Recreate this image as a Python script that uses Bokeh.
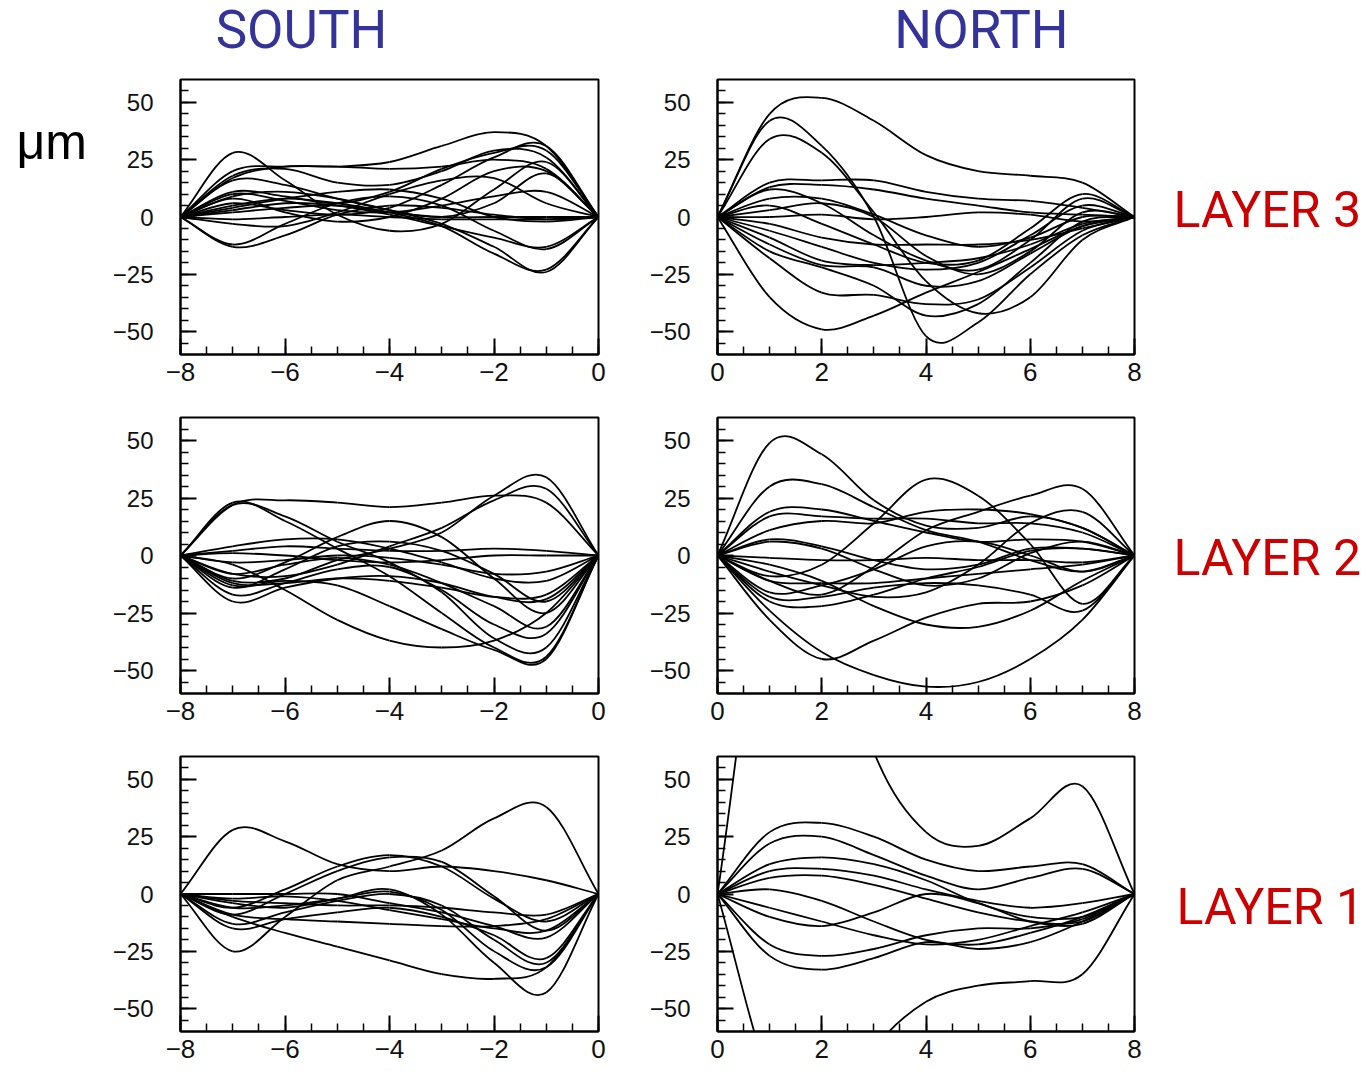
import numpy as np
from bokeh.plotting import figure
from bokeh.layouts import row, column
from bokeh.models import Range1d, FixedTicker, CustomJSTickFormatter, ColumnDataSource
from bokeh.core.properties import value
from bokeh.embed import file_html
from bokeh.resources import INLINE

# ---------------- data (values in µm) ----------------
x_south = [-8, -7, -6, -5, -4, -3, -2, -1, 0]
x_north = [0, 1, 2, 3, 4, 5, 6, 7, 8]

south_x_major = [-8, -6, -4, -2, 0]
north_x_major = [0, 2, 4, 6, 8]
y_major = [-50, -25, 0, 25, 50]

column_titles = ["SOUTH", "NORTH"]
row_titles = ["LAYER 3", "LAYER 2", "LAYER 1"]
unit_label = "μm"

south_layer3 = [
    [0, 17, 22, 22, 24, 31, 37, 31, 0],
    [0, 28, 16, 1, -6, -3, 12, 24, 0],
    [0, -13, -8, 1, 5, 4, 1, -1, 0],
    [0, -12, -3, 6, 9, 5, -6, -14, 0],
    [0, 5, 8, 6, 2, -4, -16, -23, 0],
    [0, 9, 11, 8, 3, -3, -13, -24, 0],
    [0, 3, 6, 5, 1, -4, -9, -13, 0],
    [0, 18, 21, 15, 14, 20, 29, 26, 0],
    [0, 11, 9, 6, 11, 21, 28, 29, 0],
    [0, 6, 3, 1, 4, 14, 26, 31, 0],
    [0, 20, 22, 22, 21, 22, 25, 21, 0],
    [0, -1, 0, 1, 0, -1, -1, -1, 0],
    [0, 2, 4, 5, 2, 0, 0, 0, 0],
    [0, 10, 7, 3, 2, 5, 9, 11, 0],
    [0, 16, 14, 8, 3, 0, 6, 19, 0],
    [0, 4, 8, 11, 12, 8, 0, -2, 0],
    [0, -3, -4, 2, 10, 16, 17, 6, 0],
    [0, 8, 2, -2, 0, 8, 20, 20, 0],
]

north_layer3 = [
    [0, 45, 52, 42, 27, 20, 18, 15, 0],
    [0, 42, 31, 0, -52, -46, -25, -8, 0],
    [0, 34, 28, 2, -28, -42, -35, -10, 0],
    [0, -35, -49, -43, -33, -24, -14, -4, 0],
    [0, -18, -33, -34, -38, -36, -22, -6, 0],
    [0, 15, 16, 16, 11, 8, 7, 4, 0],
    [0, 13, 14, 12, 8, 5, 2, 1, 0],
    [0, 5, -3, -12, -20, -19, -5, 10, 0],
    [0, 12, 6, -8, -19, -23, -10, 8, 0],
    [0, -6, -13, -20, -23, -20, -8, 5, 0],
    [0, 0, 1, -1, 0, 2, 1, -2, 0],
    [0, -9, -19, -21, -20, -18, -12, -3, 0],
    [0, -12, -21, -22, -30, -28, -16, -4, 0],
    [0, -3, -9, -12, -12, -12, -10, -5, 0],
    [0, 3, 6, 0, -17, -25, -15, 2, 0],
    [0, -15, -22, -30, -43, -38, -20, -2, 0],
    [0, 8, 8, 1, -8, -13, -9, 0, 0],
]

south_layer2 = [
    [0, 22, 24, 23, 21, 23, 26, 23, 0],
    [0, -11, -10, -2, 3, 10, 26, 34, 0],
    [0, -8, -9, -4, 4, 12, 24, 29, 0],
    [0, 23, 15, 3, -9, -25, -40, -44, 0],
    [0, 22, 17, 6, -3, -16, -36, -40, 0],
    [0, -10, -3, 8, 15, 8, -10, -25, 0],
    [0, -4, -15, -28, -37, -40, -37, -25, 0],
    [0, -13, -11, -13, -22, -32, -41, -45, 0],
    [0, -17, -12, -6, -5, -15, -30, -34, 0],
    [0, -20, -14, -10, -9, -12, -18, -19, 0],
    [0, 2, 4, 3, 2, 2, 3, 2, 0],
    [0, 4, 7, 7, 3, -3, -10, -11, 0],
    [0, -3, -2, 0, -1, -4, -8, -7, 0],
    [0, -12, -12, -10, -11, -14, -18, -17, 0],
    [0, -8, -4, -1, -4, -12, -22, -31, 0],
    [0, -14, -6, 4, 6, 2, -8, -20, 0],
    [0, 1, 0, -2, -3, -2, 0, 0, 0],
]

north_layer2 = [
    [0, 49, 44, 24, 13, 12, 17, 12, 0],
    [0, 30, 31, 21, 11, 6, -2, -7, 0],
    [0, -9, -4, 14, 33, 26, 5, -21, 0],
    [0, -11, -17, -5, 11, 19, 26, 29, 0],
    [0, -24, -42, -52, -57, -55, -45, -28, 0],
    [0, -28, -45, -37, -27, -21, -20, -13, 0],
    [0, -4, -11, -22, -30, -31, -24, -11, 0],
    [0, 17, 17, 16, 16, 14, 14, 10, 0],
    [0, 19, 20, 15, 10, 6, 7, 6, 0],
    [0, 7, 4, -2, -6, -4, 3, 3, 0],
    [0, -1, -2, -2, -1, -2, -2, -3, 0],
    [0, -16, -13, -6, 4, 6, 0, -7, 0],
    [0, -20, -22, -17, -10, -5, 2, 3, 0],
    [0, -11, -12, -12, -10, -8, -6, -4, 0],
    [0, -18, -18, -14, -12, -13, -17, -24, 0],
    [0, 6, 3, -6, -13, -10, 1, 6, 0],
    [0, 11, 15, 14, 19, 20, 18, 12, 0],
    [0, -7, -13, -18, -16, -4, 14, 19, 0],
]

south_layer1 = [
    [0, -25, -10, 6, 12, 19, 33, 38, 0],
    [0, 28, 23, 13, 10, 12, 10, 6, 0],
    [0, -6, 2, 12, 17, 12, -2, -12, 0],
    [0, -9, 0, 10, 16, 14, -1, -16, 0],
    [0, -10, -17, -23, -29, -35, -37, -32, 0],
    [0, -4, -6, -2, 2, -9, -30, -43, 0],
    [0, -9, -11, -12, -13, -14, -14, -11, 0],
    [0, -13, -8, -3, 0, -5, -20, -30, 0],
    [0, -6, -5, -2, 1, -7, -25, -32, 0],
    [0, 0, 0, 0, -4, -8, -14, -19, 0],
    [0, -15, -11, -8, -6, -10, -18, -28, 0],
    [0, -3, -4, -5, -5, -6, -8, -9, 0],
    [0, -2, -1, -3, -7, -11, -15, -16, 0],
]

north_layer1 = [
    [0, 150, 140, 62, 27, 21, 33, 47, 0],
    [0, -80, -110, -68, -47, -40, -38, -35, 0],
    [0, 27, 31, 25, 15, 10, 12, 13, 0],
    [0, 22, 25, 17, 8, 2, 7, 11, 0],
    [0, 13, 16, 13, 6, -4, -10, -10, 0],
    [0, 10, 11, 8, 2, -3, -6, -4, 0],
    [0, 7, 8, 4, -2, -8, -12, -12, 0],
    [0, 2, -3, -12, -20, -22, -17, -10, 0],
    [0, -10, -14, -8, 0, -4, -12, -13, 0],
    [0, -22, -27, -24, -18, -15, -15, -11, 0],
    [0, -27, -33, -28, -21, -24, -21, -12, 0],
    [0, -6, -12, -18, -22, -20, -14, -8, 0],
]

# ---------------- helpers ----------------
MINUS = "\u2212"
fmt_code = "return tick < 0 ? '" + MINUS + "' + Math.abs(tick) : tick.toString();"


def smooth_source(xs, curves):
    """Cubic (Catmull-Rom) segments through the read points, drawn as Bezier glyphs."""
    d = {k: [] for k in ("x0", "y0", "x1", "y1", "cx0", "cy0", "cx1", "cy1")}
    h = xs[1] - xs[0]
    for ys in curves:
        n = len(ys)
        m = []
        for i in range(n):
            if i == 0:
                m.append(ys[1] - ys[0])
            elif i == n - 1:
                m.append(ys[-1] - ys[-2])
            else:
                m.append((ys[i + 1] - ys[i - 1]) / 2.0)
        for i in range(n - 1):
            d["x0"].append(xs[i]); d["y0"].append(ys[i])
            d["x1"].append(xs[i + 1]); d["y1"].append(ys[i + 1])
            d["cx0"].append(xs[i] + h / 3.0); d["cy0"].append(ys[i] + m[i] / 3.0)
            d["cx1"].append(xs[i + 1] - h / 3.0); d["cy1"].append(ys[i + 1] - m[i + 1] / 3.0)
    return ColumnDataSource(d)


def make_panel(xs, curves, x_major, width, height, bl, br, bt, bb):
    p = figure(width=width, height=height,
               x_range=Range1d(min(xs), max(xs)), y_range=Range1d(-60, 60),
               output_backend="svg", toolbar_location=None,
               min_border_left=bl, min_border_right=br,
               min_border_top=bt, min_border_bottom=bb)
    p.background_fill_color = "white"
    p.border_fill_color = "white"
    p.outline_line_color = "black"
    p.outline_line_width = 2
    p.xgrid.grid_line_color = None
    p.ygrid.grid_line_color = None

    lo, hi = min(xs), max(xs)
    p.xaxis.ticker = FixedTicker(ticks=x_major,
                                 minor_ticks=list(np.arange(lo, hi + 0.01, 0.5)))
    p.yaxis.ticker = FixedTicker(ticks=y_major,
                                 minor_ticks=list(np.arange(-55, 56, 5)))
    for ax in (p.xaxis[0], p.yaxis[0]):
        ax.formatter = CustomJSTickFormatter(code=fmt_code)
        ax.axis_line_color = "black"
        ax.axis_line_width = 2
        ax.major_tick_in = 16
        ax.major_tick_out = 0
        ax.minor_tick_in = 8
        ax.minor_tick_out = 0
        ax.major_tick_line_color = "black"
        ax.major_tick_line_width = 2
        ax.minor_tick_line_color = "black"
        ax.minor_tick_line_width = 1.5
        ax.major_label_text_font = "Liberation Sans"
        ax.major_label_text_color = "#111111"
    p.xaxis.major_label_text_font_size = "26px"
    p.yaxis.major_label_text_font_size = "24px"
    p.xaxis.major_label_standoff = 8
    p.yaxis.major_label_standoff = 27

    src = smooth_source(xs, curves)
    p.bezier(x0="x0", y0="y0", x1="x1", y1="y1", cx0="cx0", cy0="cy0",
             cx1="cx1", cy1="cy1", source=src, line_color="black", line_width=1.8)
    return p


def text_fig(width, height, x0, x1, ytop, ybot):
    p = figure(width=width, height=height, x_range=Range1d(x0, x1),
               y_range=Range1d(ybot, ytop), output_backend="svg",
               toolbar_location=None, min_border=0)
    p.min_border_left = p.min_border_right = p.min_border_top = p.min_border_bottom = 0
    p.xaxis.visible = False
    p.yaxis.visible = False
    p.xgrid.grid_line_color = None
    p.ygrid.grid_line_color = None
    p.outline_line_color = None
    p.background_fill_color = "white"
    p.border_fill_color = "white"
    return p


# ---------------- panels ----------------
LW, RW = 545, 505
L1 = make_panel(x_south, south_layer3, south_x_major, LW, 332, 80, 47, 14, 41)
R1 = make_panel(x_north, north_layer3, north_x_major, RW, 332, 72, 16, 16, 38)
L2 = make_panel(x_south, south_layer2, south_x_major, LW, 340, 80, 47, 20, 42)
R2 = make_panel(x_north, north_layer2, north_x_major, RW, 340, 72, 16, 22, 40)
L3 = make_panel(x_south, south_layer1, south_x_major, LW, 333, 80, 47, 19, 37)
R3 = make_panel(x_north, north_layer1, north_x_major, RW, 333, 72, 16, 21, 35)

grid = column(row(L1, R1), row(L2, R2), row(L3, R3))

# ---------------- text areas (page pixel coordinates) ----------------
title = text_fig(1364, 63, 0, 1364, 0, 63)
title.text(x=[301, 981], y=[29, 29], text=column_titles,
           text_font=value("Roboto"), text_font_size=value("53px"),
           text_color="#333399", text_align="center", text_baseline="middle")

mu = text_fig(100, 1005, 0, 100, 63, 1068)
mu.text(x=[16], y=[141], text=[unit_label],
        text_font=value("Liberation Sans"), text_font_size=value("50px"),
        text_color="black", text_align="left", text_baseline="middle")

labels = text_fig(214, 1005, 1150, 1364, 63, 1068)
labels.text(x=[1173, 1173, 1176], y=[209, 557, 906], text=row_titles,
            text_font=value("Roboto"), text_font_size=value("50px"),
            text_color="#cc0000", text_align="left", text_baseline="middle")

layout = column(title, row(mu, grid, labels))

open("out.html", "w").write(file_html(layout, INLINE))
